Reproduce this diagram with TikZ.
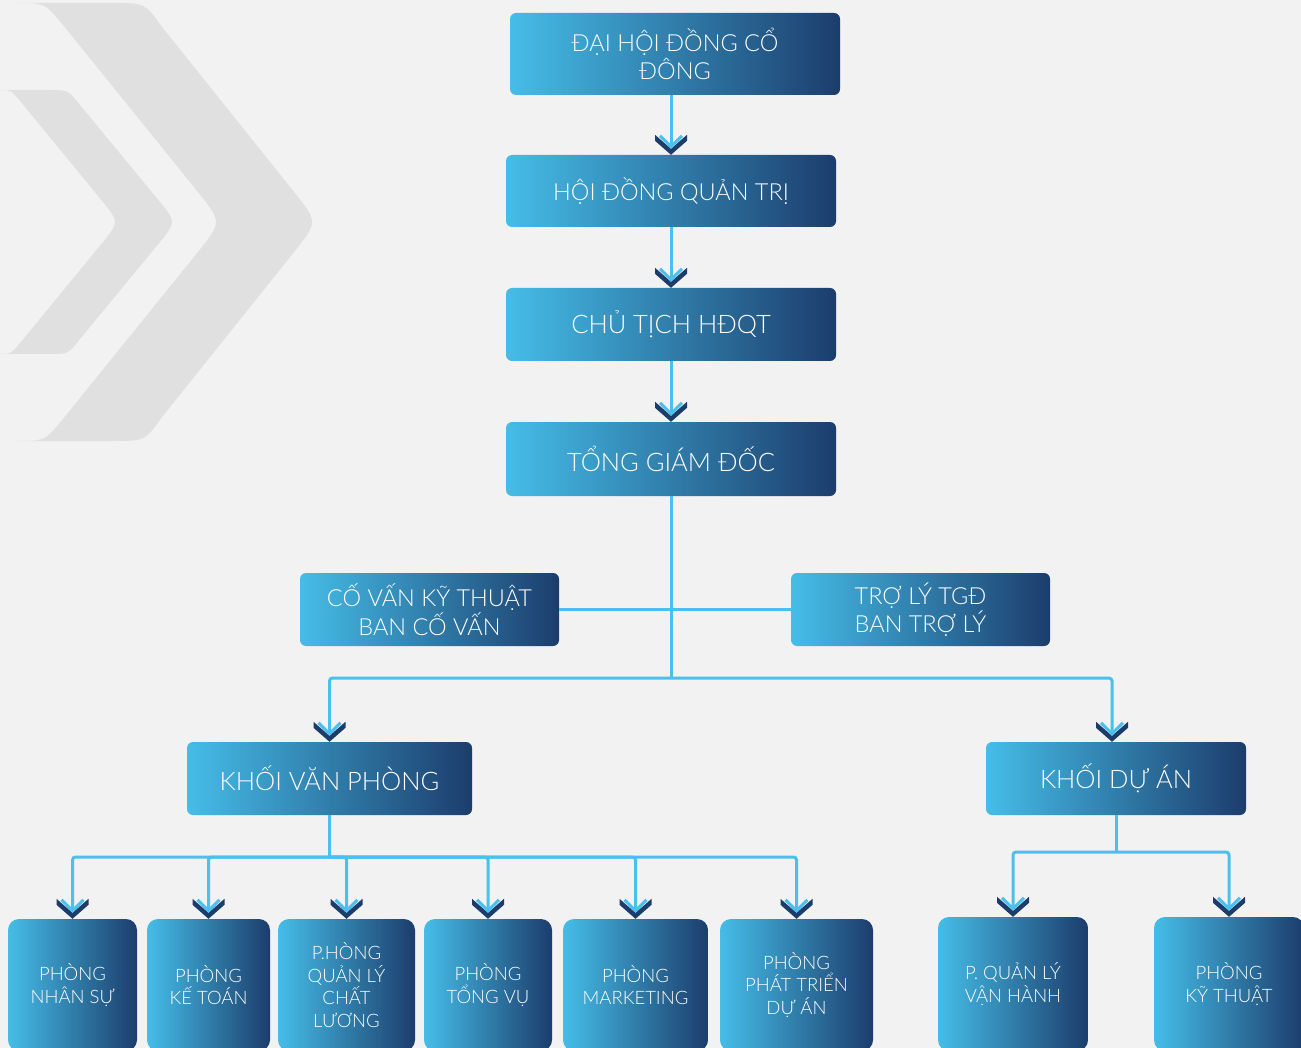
\documentclass[tikz,border=0pt]{standalone}
\usepackage{fontspec}
\setmainfont{Lato Light}
\usetikzlibrary{calc}
\definecolor{bgc}{HTML}{F2F2F2}
\definecolor{chevc}{HTML}{E0E0E0}
\definecolor{lblue}{HTML}{45BDE8}
\definecolor{navy}{HTML}{1C3D6C}
\definecolor{linec}{HTML}{4CC0EC}
\begin{document}
\begin{tikzpicture}[x=1pt,y=-1pt,
  box/.style={rounded corners=6pt, left color=lblue, right color=navy, text=white,
    align=center, inner sep=0pt, font=\fontsize{23.5}{28.5}\selectfont},
  bigtxt/.style={font=\fontsize{25.5}{30}\selectfont},
  smallbox/.style={box, rounded corners=11pt, minimum height=132pt, font=\fontsize{18.5}{22.5}\selectfont},
  conn/.style={draw=linec, line width=3pt, rounded corners=3pt},
  chevmark/.pic={
    \fill[navy] (-16,-20) -- (0,-6) -- (16,-20) -- (16,-14) -- (0,0) -- (-16,-14) -- cycle;
    \draw[linec, line width=3pt] (-11,-19) -- (0,-8) -- (11,-19);
  }]
\fill[bgc] (0,0) rectangle (1301,1048);
\useasboundingbox (0,0) rectangle (1301,1048);
\clip (0,0) rectangle (1301,1048);

% background chevrons
\fill[chevc] (16,3) -- (112,3) .. controls (145,3) .. (162,27) -- (294,192)
  .. controls (318,222) .. (294,252) -- (162,417) .. controls (145,441) .. (112,441)
  -- (16,441) .. controls (45,441) .. (63,419) -- (198,252) .. controls (222,222) .. (198,192)
  -- (63,25) .. controls (45,3) .. (16,3) -- cycle;
\fill[chevc] (-2,90) -- (50,90) .. controls (68,90) .. (80,105) -- (160,202)
  .. controls (176,222) .. (160,242) -- (80,339) .. controls (68,354) .. (50,354)
  -- (-2,354) -- (0,354) .. controls (11,354) .. (21,342) -- (103,242)
  .. controls (119,222) .. (103,202) -- (21,102) .. controls (11,90) .. (0,90) -- cycle;

% boxes
\node[box, minimum width=330pt, minimum height=82pt] (b1) at (675,54) {ĐẠI HỘI ĐỒNG CỔ\\ĐÔNG};
\node[box, minimum width=330pt, minimum height=72pt] (b2) at (671,191) {HỘI ĐỒNG QUẢN TRỊ};
\node[box, bigtxt, minimum width=330pt, minimum height=73pt] (b3) at (671,324.5) {CHỦ TỊCH HĐQT};
\node[box, bigtxt, minimum width=330pt, minimum height=74pt] (b4) at (671,459) {TỔNG GIÁM ĐỐC};
\node[box, minimum width=259pt, minimum height=73pt] (adv) at (429.5,609.5) {CỐ VẤN KỸ THUẬT\\BAN CỐ VẤN};
\node[box, minimum width=259pt, minimum height=73pt] (ast) at (920.5,609.5) {TRỢ LÝ TGĐ\\BAN TRỢ LÝ};
\node[box, bigtxt, minimum width=285pt, minimum height=73pt] (kvp) at (329.5,778.5) {KHỐI VĂN PHÒNG};
\node[box, bigtxt, minimum width=260pt, minimum height=73pt] (kda) at (1116,778.5) {KHỐI DỰ ÁN};

\node[smallbox, minimum width=129pt] (p1) at (72.5,985) {PHÒNG\\NHÂN SỰ};
\node[smallbox, minimum width=123pt] (p2) at (208.5,985) {PHÒNG\\KẾ TOÁN};
\node[smallbox, minimum width=137pt] (p3) at (346.5,985) {P.HÒNG\\QUẢN LÝ\\CHẤT\\LƯƠNG};
\node[smallbox, minimum width=128pt] (p4) at (488,985) {PHÒNG\\TỔNG VỤ};
\node[smallbox, minimum width=145pt] (p5) at (635.5,985) {PHÒNG\\MARKETING};
\node[smallbox, minimum width=153pt] (p6) at (796.5,985) {PHÒNG\\PHÁT TRIỂN\\DỰ ÁN};
\node[smallbox, minimum width=150pt, minimum height=134pt] (q1) at (1013,984) {P. QUẢN LÝ\\VẬN HÀNH};
\node[smallbox, minimum width=150pt, minimum height=134pt] (q2) at (1229,984) {PHÒNG\\KỸ THUẬT};

% connectors
\coordinate (bus1) at (671,678);
\coordinate (bus2) at (329.5,857);
\coordinate (bus3) at (1116,852);
\draw[conn] (b2.north |- b1.south) -- ([yshift=8pt]b2.north);
\draw[conn] (b2.south) -- ([yshift=8pt]b3.north);
\draw[conn] (b3.south) -- ([yshift=8pt]b4.north);
\draw[conn] (b4.south) -- (bus1);
\draw[conn] (adv.east) -- (ast.west);
\draw[conn] (bus1) -| ([yshift=8pt]kvp.north);
\draw[conn] (bus1) -| ([xshift=-4pt,yshift=8pt]kda.north);
\draw[conn] (kvp.south) -- (bus2);
\foreach \n in {p1,p2,p3,p4,p5,p6} {
  \draw[conn] (bus2) -| ([yshift=8pt]\n.north);
}
\draw[conn] (kda.south) -- (bus3);
\foreach \n in {q1,q2} {
  \draw[conn] (bus3) -| ([yshift=8pt]\n.north);
}

% arrow markers
\pic at (b2.north) {chevmark};
\pic at (b3.north) {chevmark};
\pic at (b4.north) {chevmark};
\pic at (kvp.north) {chevmark};
\pic at ([xshift=-4pt]kda.north) {chevmark};
\foreach \n in {p1,p2,p3,p4,p5,p6,q1,q2} {
  \pic at (\n.north) {chevmark};
}
\end{tikzpicture}
\end{document}
